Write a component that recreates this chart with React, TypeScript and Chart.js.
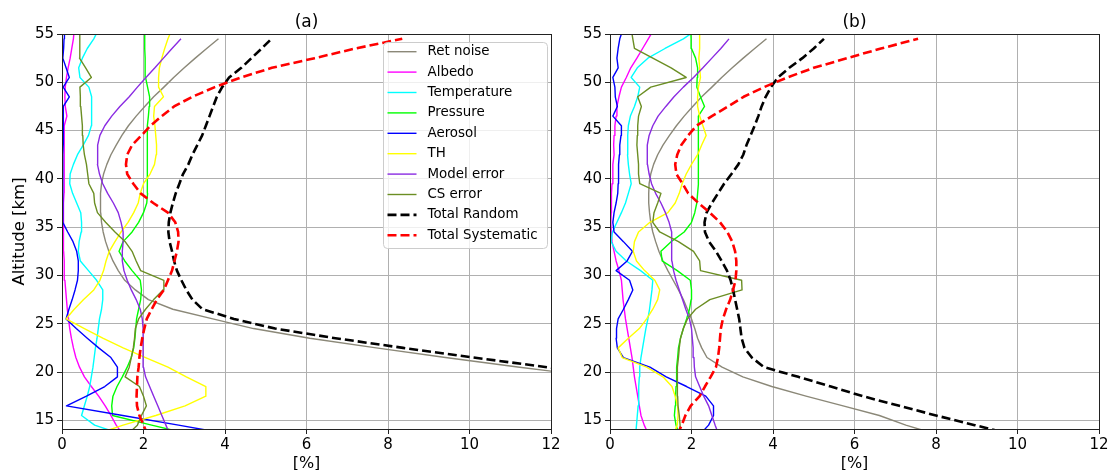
import React, { useEffect, useRef } from "react";
import { Chart, registerables } from "chart.js";

Chart.register(...registerables);

const FONT = "'DejaVu Sans', 'Liberation Sans', sans-serif";

// Altitude grid [km]
const ALT = [
  13.5, 14.5, 15.5, 16.5, 17.5, 18.5, 19.5, 20.5, 21.5, 22.5,
  23.5, 24.5, 25.5, 26.5, 27.5, 28.5, 29.5, 30.5, 31.5, 32.5,
  33.5, 34.5, 35.5, 36.5, 37.5, 38.5, 39.5, 40.5, 41.5, 42.5,
  43.5, 44.5, 45.5, 46.5, 47.5, 48.5, 49.5, 50.5, 51.5, 52.5,
  53.5, 54.5, 55.5,
];

const X_TICKS = [0, 2, 4, 6, 8, 10, 12];
const Y_TICKS = [15, 20, 25, 30, 35, 40, 45, 50, 55];

const NAMES = [
  "Ret noise", "Albedo", "Temperature", "Pressure", "Aerosol",
  "TH", "Model error", "CS error", "Total Random", "Total Systematic",
];
const COLORS = [
  "#8b8878", "#ff00ff", "#00ffff", "#00ff00", "#0000ff",
  "#ffff00", "#8a2be2", "#6b8e23", "#000000", "#ff0000",
];
const DASHED = [false, false, false, false, false, false, false, false, true, true];

// ---------- Panel (a) ----------
const A_RET = [
  null, null, null, null, null, null, 13.1, 11.23, 9.41, 7.71,
  6.08, 4.7, 3.7, 2.72, 2.12, 1.8, 1.54, 1.38, 1.25, 1.15,
  1.07, 1.01, 0.97, 0.95, 0.94, 0.95, 0.97, 1.02, 1.1, 1.2,
  1.33, 1.47, 1.63, 1.82, 2.03, 2.25, 2.5, 2.74, 3.0, 3.27,
  3.55, 3.84, null,
];
const A_ALB = [
  1.5, 1.33, 1.2, 1.06, 0.9, 0.72, 0.55, 0.43, 0.34, 0.28,
  0.23, 0.19, 0.16, 0.13, 0.11, 0.09, 0.07, 0.06, 0.05, 0.04,
  0.04, 0.03, 0.03, 0.04, 0.04, 0.05, 0.05, 0.05, 0.05, 0.05,
  0.05, 0.06, 0.07, 0.12, 0.08, 0.07, 0.08, 0.11, 0.15, 0.2,
  0.24, 0.28, 0.3,
];
const A_TMP = [
  1.5, 0.8, 0.48, 0.55, 0.62, 0.68, 0.72, 0.76, 0.79, 0.82,
  0.86, 0.89, 0.92, 0.97, 1.0, 1.0, 0.85, 0.65, 0.45, 0.4,
  0.42, 0.47, 0.48, 0.46, 0.36, 0.26, 0.19, 0.2, 0.28, 0.38,
  0.52, 0.65, 0.72, 0.73, 0.73, 0.72, 0.66, 0.44, 0.41, 0.5,
  0.62, 0.78, 0.9,
];
const A_PRS = [
  3.2, 2.2, 1.24, 1.22, 1.25, 1.35, 1.48, 1.6, 1.7, 1.76,
  1.79, 1.81, 1.83, 1.88, 1.93, 1.95, 1.92, 1.72, 1.54, 1.4,
  1.5, 1.72, 1.88, 2.0, 2.08, 2.1, 2.1, 2.09, 2.09, 2.09,
  2.09, 2.1, 2.1, 2.12, 2.14, 2.15, 2.1, 2.05, 2.04, 2.04,
  2.03, 2.03, 2.03,
];
const A_AER = [
  4.2, 2.86, 1.49, 0.11, 0.6, 1.05, 1.36, 1.36, 1.2, 0.9,
  0.62, 0.35, 0.1, 0.17, 0.25, 0.32, 0.38, 0.4, 0.4, 0.36,
  0.27, 0.14, 0.02, 0.02, 0.02, 0.02, 0.02, 0.02, 0.02, 0.02,
  0.03, 0.03, 0.03, 0.04, 0.03, 0.18, 0.03, 0.18, 0.1, 0.02,
  0.04, 0.05, 0.06,
];
const A_TH = [
  0.8, 1.5, 2.3, 3.02, 3.53, 3.53, 3.05, 2.6, 2.05, 1.5,
  1.0, 0.55, 0.1, 0.3, 0.53, 0.78, 0.93, 1.02, 1.08, 1.16,
  1.3, 1.45, 1.62, 1.76, 1.87, 1.92, 2.0, 2.16, 2.27, 2.31,
  2.32, 2.3, 2.28, 2.25, 2.27, 2.49, 2.37, 2.37, 2.39, 2.45,
  2.52, 2.6, 2.7,
];
const A_MOD = [
  2.65, 2.55, 2.45, 2.35, 2.25, 2.15, 2.05, 2.0, 1.99, 1.99,
  1.99, 1.99, 1.97, 1.92, 1.82, 1.7, 1.6, 1.52, 1.48, 1.48,
  1.5, 1.5, 1.45, 1.38, 1.26, 1.12, 1.0, 0.92, 0.87, 0.87,
  0.88, 0.93, 1.05, 1.22, 1.42, 1.65, 1.85, 2.06, 2.28, 2.49,
  2.7, 2.92, null,
];
const A_CS = [
  1.6, 1.85, 1.95, 2.07, 2.0, 1.9, 1.55, 1.65, 1.7, 1.75,
  1.78, 1.8, 1.88, 2.05, 2.25, 2.48, 2.5, 1.93, 1.82, 1.72,
  1.55, 1.3, 1.07, 0.87, 0.8, 0.78, 0.66, 0.63, 0.6, 0.55,
  0.52, 0.51, 0.5, 0.48, 0.46, 0.45, 0.44, 0.72, 0.58, 0.43,
  0.43, 0.44, 0.44,
];
const A_TR = [
  null, null, null, null, null, null, 13.8, 11.9, 10.1, 8.37,
  6.71, 5.23, 4.22, 3.45, 3.2, 3.05, 2.93, 2.82, 2.75, 2.7,
  2.64, 2.61, 2.62, 2.66, 2.72, 2.79, 2.88, 2.97, 3.1, 3.2,
  3.32, 3.44, 3.53, 3.62, 3.71, 3.8, 3.93, 4.1, 4.4, 4.65,
  4.9, 5.14, null,
];
const A_TS = [
  2.1, 2.0, 1.9, 1.84, 1.83, 1.84, 1.85, 1.88, 1.9, 1.93,
  1.97, 2.02, 2.08, 2.2, 2.33, 2.5, 2.6, 2.7, 2.76, 2.82,
  2.86, 2.85, 2.78, 2.6, 2.24, 1.93, 1.75, 1.6, 1.57, 1.6,
  1.72, 1.95, 2.17, 2.45, 2.75, 3.2, 3.75, 4.39, 5.15, 6.2,
  7.2, 8.35, null,
];

// ---------- Panel (b) ----------
const B_RET = [
  8.05, 7.26, 6.61, 5.72, 4.81, 3.97, 3.26, 2.75, 2.38, 2.25,
  2.15, 2.08, 2.0, 1.9, 1.8, 1.68, 1.55, 1.42, 1.3, 1.2,
  1.12, 1.05, 1.0, 0.97, 0.95, 0.95, 0.96, 1.0, 1.07, 1.17,
  1.3, 1.46, 1.63, 1.82, 2.03, 2.25, 2.5, 2.74, 3.0, 3.27,
  3.55, 3.84, null,
];
const B_ALB = [
  0.95, 0.84, 0.76, 0.72, 0.68, 0.64, 0.6, 0.57, 0.54, 0.5,
  0.46, 0.42, 0.38, 0.35, 0.32, 0.3, 0.28, 0.22, 0.15, 0.1,
  0.05, 0.03, 0.02, 0.03, 0.03, 0.04, 0.05, 0.07, 0.07, 0.1,
  0.09, 0.1, 0.12, 0.15, 0.17, 0.22, 0.28, 0.4, 0.51, 0.66,
  0.8, 0.94, 1.08,
];
const B_TMP = [
  0.63, 0.65, 0.67, 0.69, 0.7, 0.71, 0.72, 0.73, 0.76, 0.8,
  0.84, 0.88, 0.93, 0.97, 1.0, 1.03, 1.05, 0.75, 0.4, 0.15,
  0.03, 0.06, 0.17, 0.28, 0.38, 0.45, 0.52, 0.48, 0.45, 0.43,
  0.43, 0.44, 0.45, 0.5, 0.6, 0.68, 0.73, 0.52, 0.67, 0.93,
  1.35, 1.8, 2.15,
];
const B_PRS = [
  1.7, 1.62, 1.58, 1.6, 1.61, 1.62, 1.63, 1.64, 1.66, 1.68,
  1.73, 1.8, 1.88, 1.95, 1.99, 2.0, 1.97, 1.65, 1.28, 1.25,
  1.5, 1.82, 2.0, 2.08, 2.13, 2.15, 2.17, 2.18, 2.17, 2.16,
  2.16, 2.17, 2.18, 2.16, 2.32, 2.22, 2.13, 2.14, 2.15, 2.1,
  2.0, 1.99, 1.98,
];
const B_AER = [
  2.2, 2.42, 2.54, 2.54, 2.35, 1.88, 1.38, 0.98, 0.33, 0.18,
  0.15, 0.16, 0.2, 0.33, 0.45, 0.56, 0.48, 0.15, 0.42, 0.55,
  0.33, 0.1, 0.07, 0.1, 0.15, 0.19, 0.2, 0.2, 0.22, 0.23,
  0.24, 0.27, 0.28, 0.07, 0.18, 0.13, 0.12, 0.07, 0.2, 0.17,
  0.2, 0.24, 0.32,
];
const B_TH = [
  1.55, 1.65, 1.67, 1.66, 1.6, 1.52, 1.3, 0.9, 0.3, 0.2,
  0.45, 0.72, 0.9, 1.05, 1.17, 1.22, 1.1, 0.85, 0.65, 0.57,
  0.6, 0.7, 0.98, 1.42, 1.6, 1.7, 1.77, 1.87, 2.0, 2.15,
  2.25, 2.36, 2.28, 2.2, 2.15, 2.15, 2.17, 2.22, 2.2, 2.18,
  2.2, 2.2, 2.2,
];
const B_MOD = [
  2.67, 2.58, 2.5, 2.42, 2.3, 2.2, 2.1, 2.07, 2.06, 2.04,
  2.02, 2.0, 1.95, 1.86, 1.78, 1.7, 1.62, 1.56, 1.52, 1.52,
  1.52, 1.5, 1.45, 1.36, 1.25, 1.12, 1.02, 0.96, 0.92, 0.91,
  0.92, 0.96, 1.05, 1.18, 1.37, 1.57, 1.8, 2.05, 2.28, 2.5,
  2.72, 2.92, null,
];
const B_CS = [
  1.74, 1.72, 1.7, 1.67, 1.66, 1.65, 1.65, 1.66, 1.68, 1.7,
  1.73, 1.8, 1.9, 2.1, 2.45, 3.24, 3.23, 2.22, 2.2, 2.05,
  1.68, 1.22, 1.05, 1.08, 1.17, 1.25, 0.73, 0.7, 0.7, 0.68,
  0.66, 0.67, 0.68, 0.7, 0.77, 0.68, 1.0, 1.87, 1.5, 1.05,
  0.6, 0.56, 0.52,
];
const B_TR = [
  9.9, 8.95, 8.0, 7.1, 6.2, 5.42, 4.62, 3.78, 3.48, 3.3,
  3.23, 3.2, 3.17, 3.12, 3.07, 3.02, 2.96, 2.87, 2.74, 2.6,
  2.43, 2.33, 2.32, 2.37, 2.5, 2.65, 2.8, 2.98, 3.15, 3.27,
  3.35, 3.45, 3.55, 3.64, 3.72, 3.82, 3.95, 4.12, 4.4, 4.72,
  5.0, 5.25, null,
];
const B_TS = [
  1.65, 1.76, 1.85, 1.98, 2.2, 2.33, 2.47, 2.6, 2.65, 2.68,
  2.7, 2.72, 2.77, 2.85, 2.95, 3.02, 3.08, 3.1, 3.1, 3.07,
  3.0, 2.88, 2.7, 2.45, 2.17, 1.92, 1.78, 1.63, 1.6, 1.65,
  1.75, 1.92, 2.12, 2.5, 2.9, 3.28, 3.78, 4.35, 5.0, 5.82,
  6.65, 7.56, null,
];

const PANEL_A = [A_RET, A_ALB, A_TMP, A_PRS, A_AER, A_TH, A_MOD, A_CS, A_TR, A_TS];
const PANEL_B = [B_RET, B_ALB, B_TMP, B_PRS, B_AER, B_TH, B_MOD, B_CS, B_TR, B_TS];

type Series = (number | null)[];

function toPoints(vals: Series) {
  const pts: { x: number; y: number }[] = [];
  for (let i = 0; i < ALT.length; i++) {
    const v = vals[i];
    if (v !== null && v !== undefined) pts.push({ x: v, y: ALT[i] });
  }
  return pts;
}

interface PanelOpts {
  title: string;
  yTitle: boolean;
  yWidth: number;
  padRight: number;
  legend: boolean;
}

function makeChart(canvas: HTMLCanvasElement, series: Series[], o: PanelOpts) {
  const datasets = series.map((vals, i) => ({
    label: NAMES[i],
    data: toPoints(vals),
    showLine: true,
    borderColor: COLORS[i],
    backgroundColor: COLORS[i],
    borderWidth: DASHED[i] ? 2.6 : 1.4,
    borderDash: DASHED[i] ? [9, 4] : [],
    borderJoinStyle: "round" as const,
    borderCapStyle: "butt" as const,
    pointRadius: 0,
    pointHoverRadius: 0,
    tension: 0,
    fill: false,
    order: series.length - 1 - i,
  }));

  const framePlugin = {
    id: "frame",
    afterDatasetsDraw(chart: any) {
      const { ctx, chartArea } = chart;
      const l = Math.round(chartArea.left) + 0.5;
      const t = Math.round(chartArea.top) + 0.5;
      const r = Math.round(chartArea.right) + 0.5;
      const b = Math.round(chartArea.bottom) + 0.5;
      ctx.save();
      ctx.strokeStyle = "#222222";
      ctx.lineWidth = 1;
      ctx.setLineDash([]);
      ctx.strokeRect(l, t, r - l, b - t);
      ctx.restore();
    },
  };

  const titlePlugin = {
    id: "panelTitle",
    afterDraw(chart: any) {
      const { ctx, chartArea } = chart;
      ctx.save();
      ctx.fillStyle = "#000";
      ctx.font = `17px ${FONT}`;
      ctx.textAlign = "center";
      ctx.textBaseline = "middle";
      ctx.fillText(o.title, (chartArea.left + chartArea.right) / 2, chartArea.top - 11.5);
      ctx.restore();
    },
  };

  const legendPlugin = {
    id: "boxLegend",
    afterDraw(chart: any) {
      if (!o.legend) return;
      const { ctx, chartArea } = chart;
      const w = 164;
      const h = 206;
      const x0 = Math.round(chartArea.right) - 4 - w + 0.5;
      const y0 = Math.round(chartArea.top) + 8 + 0.5;
      ctx.save();
      ctx.beginPath();
      ctx.roundRect(x0, y0, w, h, 4);
      ctx.fillStyle = "rgba(255,255,255,0.8)";
      ctx.fill();
      ctx.strokeStyle = "#cccccc";
      ctx.lineWidth = 1;
      ctx.stroke();
      NAMES.forEach((name, i) => {
        const cy = y0 + 9.2 + i * 20.4;
        ctx.beginPath();
        ctx.setLineDash(DASHED[i] ? [9, 4] : []);
        ctx.strokeStyle = COLORS[i];
        ctx.lineWidth = DASHED[i] ? 2.6 : 1.4;
        ctx.moveTo(x0 + 4, cy);
        ctx.lineTo(x0 + 33, cy);
        ctx.stroke();
        ctx.setLineDash([]);
        ctx.fillStyle = "#000";
        ctx.font = `13.4px ${FONT}`;
        ctx.textAlign = "left";
        ctx.textBaseline = "middle";
        ctx.fillText(name, x0 + 44, cy);
      });
      ctx.restore();
    },
  };

  const grid = {
    color: "#b0b0b0",
    lineWidth: 1,
    drawTicks: true,
    tickLength: 5,
    tickColor: "#222222",
  };

  return new Chart(canvas, {
    type: "scatter",
    data: { datasets: datasets as any },
    options: {
      animation: false,
      responsive: false,
      devicePixelRatio: 1,
      events: [],
      layout: { padding: { left: 0, right: o.padRight, top: 34, bottom: 0 } },
      plugins: {
        legend: { display: false },
        tooltip: { enabled: false },
        title: { display: false },
      },
      scales: {
        x: {
          type: "linear",
          min: 0,
          max: 12,
          afterBuildTicks: (s: any) => {
            s.ticks = X_TICKS.map((v) => ({ value: v }));
          },
          afterFit: (s: any) => {
            s.height = 41;
          },
          ticks: {
            color: "#000",
            font: { family: FONT, size: 15 },
            padding: 2,
            maxRotation: 0,
            autoSkip: false,
          },
          grid,
          border: { display: false },
          title: {
            display: true,
            text: "[%]",
            color: "#000",
            font: { family: FONT, size: 16, lineHeight: 0.75 },
            padding: { top: 0, bottom: 0 },
          },
        },
        y: {
          type: "linear",
          min: 14.1,
          max: 55,
          afterBuildTicks: (s: any) => {
            s.ticks = Y_TICKS.map((v) => ({ value: v }));
          },
          afterFit: (s: any) => {
            s.width = o.yWidth;
          },
          ticks: {
            color: "#000",
            font: { family: FONT, size: 15 },
            padding: 3,
            autoSkip: false,
          },
          grid,
          border: { display: false },
          title: {
            display: o.yTitle,
            text: "Altitude [km]",
            color: "#000",
            font: { family: FONT, size: 16.5, lineHeight: 1.2 },
            padding: { top: 10, bottom: 0 },
          },
        },
      },
    } as any,
    plugins: [framePlugin, titlePlugin, legendPlugin],
  });
}

export default function App() {
  const refA = useRef<HTMLCanvasElement>(null);
  const refB = useRef<HTMLCanvasElement>(null);

  useEffect(() => {
    Chart.defaults.font.family = FONT;
    const a = refA.current
      ? makeChart(refA.current, PANEL_A, { title: "(a)", yTitle: true, yWidth: 62, padRight: 24, legend: true })
      : null;
    const b = refB.current
      ? makeChart(refB.current, PANEL_B, { title: "(b)", yTitle: false, yWidth: 54, padRight: 14, legend: false })
      : null;
    return () => {
      if (a) a.destroy();
      if (b) b.destroy();
    };
  }, []);

  return (
    <div
      style={{
        position: "absolute",
        left: 0,
        top: 0,
        width: 1113,
        height: 470,
        background: "#ffffff",
        overflow: "hidden",
      }}
    >
      <canvas
        ref={refA}
        width={575}
        height={470}
        style={{ position: "absolute", left: 0, top: 0, width: 575, height: 470 }}
      />
      <canvas
        ref={refB}
        width={557}
        height={470}
        style={{ position: "absolute", left: 556, top: 0, width: 557, height: 470 }}
      />
    </div>
  );
}
